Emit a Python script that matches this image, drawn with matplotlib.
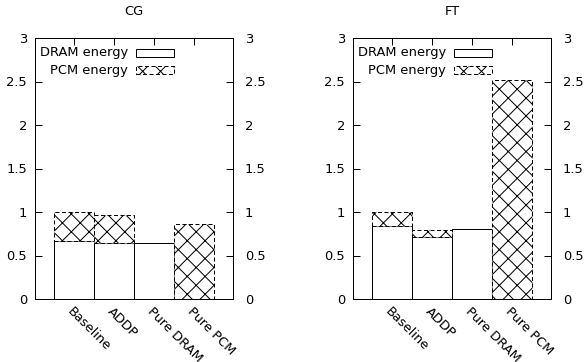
import numpy as np
import matplotlib
matplotlib.use('Agg')
import matplotlib.pyplot as plt
from matplotlib.patches import Rectangle

configs = ['Baseline', 'ADDP', 'Pure DRAM', 'Pure PCM']
benchmarks = ['CG', 'FT']

# normalised energy per benchmark
cg_dram = [0.67, 0.64, 0.64, 0.0]
cg_pcm = [0.33, 0.33, 0.0, 0.86]
ft_dram = [0.84, 0.71, 0.81, 0.0]
ft_pcm = [0.16, 0.08, 0.0, 2.52]

yticks = [0, 0.5, 1, 1.5, 2, 2.5, 3]
ylabels = ['0', '0.5', '1', '1.5', '2', '2.5', '3']

dpi = 107
px = 72.0 / dpi  # one pixel in points

plt.rcParams['font.family'] = 'DejaVu Sans'
plt.rcParams['font.size'] = 13 * px
plt.rcParams['hatch.linewidth'] = 1.0 * px

fig = plt.figure(figsize=(586 / dpi, 362 / dpi), dpi=dpi)

data = [(cg_dram, cg_pcm), (ft_dram, ft_pcm)]
lefts = [35, 353]
lw = 1.0 * px
dash = (0, (4, 2.5))

for i, name in enumerate(benchmarks):
    dram, pcm = data[i]
    ax = fig.add_axes([lefts[i] / 586, 1 - 299 / 362, 198 / 586, 261 / 362])
    x = np.arange(len(configs))
    ax.bar(x, dram, width=1.0, color='white', edgecolor='black', linewidth=lw)
    ax.bar(x, pcm, width=1.0, bottom=dram, color='white', edgecolor='black',
           linewidth=lw, hatch='xx', linestyle=dash)

    ax.set_xlim(-0.97, 3.97)
    ax.set_ylim(0, 3)
    ax.set_xticks(x)
    ax.set_xticklabels(configs, rotation=-45, ha='left', va='top',
                       rotation_mode='anchor')
    ax.tick_params(axis='x', direction='in', bottom=False, top=True,
                   length=7 * px, width=lw, pad=6 * px)
    ax.set_yticks(yticks)
    ax.set_yticklabels(ylabels)
    ax.tick_params(axis='y', direction='in', left=True, right=False,
                   length=7 * px, width=lw, pad=8 * px)
    for s in ax.spines.values():
        s.set_linewidth(lw)

    ax2 = ax.twinx()
    ax2.set_ylim(0, 3)
    ax2.set_yticks(yticks)
    ax2.set_yticklabels(ylabels)
    ax2.tick_params(axis='y', direction='in', length=7 * px, width=lw,
                    pad=12 * px)
    for s in ax2.spines.values():
        s.set_linewidth(lw)

    ax.text(0.5, 1.1, name, transform=ax.transAxes, ha='center', va='center')

    # key, gnuplot style
    ax.text(0.47, 0.943, 'DRAM energy', transform=ax.transAxes,
            ha='right', va='center')
    ax.text(0.47, 0.877, 'PCM energy', transform=ax.transAxes,
            ha='right', va='center')
    ax.add_patch(Rectangle((0.51, 0.943 - 0.016), 0.192, 0.032,
                           transform=ax.transAxes, facecolor='white',
                           edgecolor='black', linewidth=lw))
    ax.add_patch(Rectangle((0.51, 0.877 - 0.016), 0.192, 0.032,
                           transform=ax.transAxes, facecolor='white',
                           edgecolor='black', linewidth=lw, hatch='xx',
                           linestyle=dash))

fig.savefig('out.png', dpi=dpi)
